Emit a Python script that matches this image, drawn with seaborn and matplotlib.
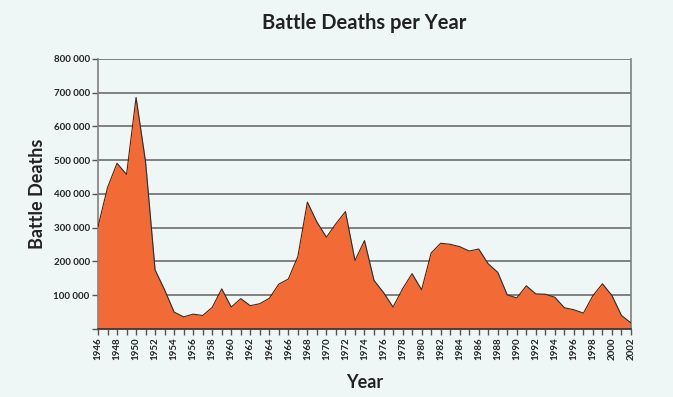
import matplotlib
matplotlib.use("Agg")
import matplotlib.pyplot as plt
import matplotlib.ticker as mticker
import pandas as pd
import seaborn as sns

# battle deaths per year
years = list(range(1946, 2003))
deaths = [
    303000, 419000, 491000, 458000, 686000, 495000, 175000, 116000, 50000, 36000,
    44000, 40000, 64000, 119000, 65000, 90000, 69000, 75000, 91000, 133000,
    148000, 215000, 376000, 317000, 272000, 312000, 348000, 203000, 262000, 144000,
    108000, 65000, 119000, 164000, 116000, 225000, 254000, 251000, 244000, 231000,
    237000, 193000, 168000, 101000, 92000, 128000, 104000, 103000, 94000, 63000,
    57000, 47000, 99000, 134000, 99000, 40000, 18000,
]
y_ticks = list(range(0, 800001, 100000))
x_label_years = list(range(1946, 2003, 2))

df = pd.DataFrame({"year": years, "deaths": deaths})

bg = "#eef7f5"
fill = "#f26a35"
grid = "#808080"
font = "Lato"

sns.set_theme(style="white", rc={"axes.facecolor": bg, "figure.facecolor": bg})
plt.rcParams["font.family"] = [font, "DejaVu Sans"]

fig = plt.figure(figsize=(6.73, 3.97), dpi=100)
ax = fig.add_axes([0.1456, 0.1713, 0.7920, 0.6801])

ax.fill_between(df["year"], df["deaths"], 0, color=fill, zorder=2, linewidth=0)
sns.lineplot(data=df, x="year", y="deaths", ax=ax, color="#3a2a20", linewidth=0.8, zorder=3)

ax.set_xlim(1946, 2002)
ax.set_ylim(0, 800000)
ax.set_yticks(y_ticks)
ax.yaxis.set_major_formatter(mticker.FuncFormatter(
    lambda v, p: "" if v == 0 else f"{int(v):,}".replace(",", " ")))
ax.set_xticks(x_label_years)
ax.set_xticks(years, minor=True)
ax.set_xticklabels([str(y) for y in x_label_years], rotation=90)

for t in y_ticks[1:]:
    ax.axhline(t, color=grid, linewidth=1.4, zorder=1)

ax.spines["top"].set_visible(False)
for side in ["left", "bottom", "right"]:
    ax.spines[side].set_color(grid)
    ax.spines[side].set_linewidth(1.2)
ax.spines["bottom"].set_color("#333333")

ax.tick_params(axis="both", which="both", direction="out", length=4, width=1,
               color="#555555", labelsize=7, pad=2, bottom=True, left=True)
for lab in ax.get_xticklabels() + ax.get_yticklabels():
    lab.set_fontweight("bold")
    lab.set_color("#222222")

ax.set_xlabel("Year", fontsize=13, fontweight="bold", color="#222222", labelpad=10)
ax.set_ylabel("Battle Deaths", fontsize=13, fontweight="bold", color="#222222", labelpad=5)
fig.text(0.541, 0.942, "Battle Deaths per Year", ha="center", va="center",
         fontsize=14.5, fontweight="bold", color="#222222")

fig.savefig("out.png", dpi=100, facecolor=bg)
